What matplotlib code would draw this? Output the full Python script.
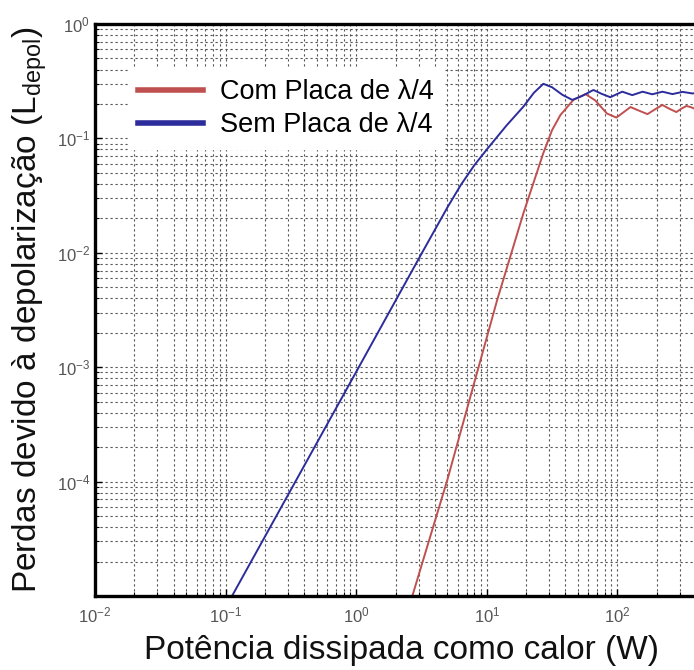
import numpy as np
import matplotlib
matplotlib.use("Agg")
import matplotlib.pyplot as plt
from matplotlib.ticker import LogLocator, NullFormatter

plt.rcParams['font.family'] = ['Liberation Sans', 'DejaVu Sans']
plt.rcParams['mathtext.fontset'] = 'custom'
plt.rcParams['mathtext.rm'] = 'Liberation Sans'
plt.rcParams['mathtext.it'] = 'Liberation Sans:italic'

# potencia (W) e perdas
p_sem = [0.112, 1.0, 3.16, 5.0, 6.31, 8.0, 10.0, 14.1, 19.1, 22.9, 27.1, 31.6, 38.0, 45.2,
         53.7, 65.5, 75.9, 88.3, 100, 109, 130, 156, 185, 221, 264, 315, 376, 447, 500]
l_sem = [1.0e-5, 9.1e-4, 9.8e-3, 2.5e-2, 3.9e-2, 5.8e-2, 8.0e-2, 0.129, 0.19, 0.25, 0.30,
         0.28, 0.24, 0.217, 0.235, 0.265, 0.245, 0.229, 0.245, 0.256, 0.239, 0.256, 0.243,
         0.256, 0.244, 0.255, 0.247, 0.254, 0.25]

p_com = [2.69, 4.98, 12.0, 19.1, 27.1, 31.6, 36.6, 46.0, 56.9, 67.6, 83.2, 98.2, 112, 126,
         146, 170, 195, 221, 251, 283, 309, 338, 363, 389, 447]
l_com = [1.0e-5, 1.03e-4, 3.86e-3, 2.23e-2, 7.45e-2, 0.118, 0.160, 0.217, 0.244, 0.215,
         0.165, 0.152, 0.170, 0.188, 0.175, 0.163, 0.180, 0.196, 0.181, 0.170, 0.182, 0.192,
         0.188, 0.182, 0.176]

x_ticks = [1e-2, 1e-1, 1e0, 1e1, 1e2]
x_ticklabels = [r'$10^{-2}$', r'$10^{-1}$', r'$10^{0}$', r'$10^{1}$', r'$10^{2}$']
y_ticks = [1e-4, 1e-3, 1e-2, 1e-1, 1e0]
y_ticklabels = [r'$10^{-4}$', r'$10^{-3}$', r'$10^{-2}$', r'$10^{-1}$', r'$10^{0}$']

fig = plt.figure(figsize=(6.94, 6.70), dpi=100)
ax = fig.add_axes([95 / 694, 74 / 670, 653 / 694, 572 / 670])

ax.loglog(p_com, l_com, color='#c05050', lw=1.4, label='Com Placa de λ/4')
ax.loglog(p_sem, l_sem, color='#2c2c9c', lw=1.4, label='Sem Placa de λ/4')

ax.set_xlim(1e-2, 1e3)
ax.set_ylim(1e-5, 1e0)

ax.set_xticks(x_ticks)
ax.set_xticklabels(x_ticklabels)
ax.set_yticks(y_ticks)
ax.set_yticklabels(y_ticklabels)
ax.xaxis.set_minor_locator(LogLocator(base=10, subs=np.arange(2, 10), numticks=20))
ax.yaxis.set_minor_locator(LogLocator(base=10, subs=np.arange(2, 10), numticks=20))
ax.xaxis.set_minor_formatter(NullFormatter())
ax.yaxis.set_minor_formatter(NullFormatter())

ax.tick_params(which='both', direction='in', top=False, right=False, labelsize=12,
               labelcolor='#555555')
ax.tick_params(which='major', length=5, width=1)
ax.tick_params(which='minor', length=3, width=0.8)
ax.tick_params(axis='x', pad=7)

ax.grid(True, which='both', linestyle=(0, (2, 2.5)), color='#555555', linewidth=0.8)

for side in ['left', 'bottom', 'top']:
    ax.spines[side].set_linewidth(2.4)
ax.spines['right'].set_visible(False)

ax.set_xlabel('Potência dissipada como calor (W)', fontsize=24, color='#111111')
ax.xaxis.set_label_coords(0.47, -0.068)
ax.set_ylabel(r'Perdas devido à depolarização (L$_{\mathregular{depol}}$)', fontsize=24,
              color='#111111')
ax.yaxis.set_label_coords(-0.07, 0.5)

leg = ax.legend(loc='upper left', bbox_to_anchor=(0.05, 0.922), borderaxespad=0,
                fontsize=19.5, frameon=True, fancybox=False, handlelength=2.4,
                borderpad=0.4, handletextpad=0.6, labelspacing=0.25)
leg.get_frame().set_edgecolor('white')
leg.get_frame().set_facecolor('white')
leg.get_frame().set_alpha(1.0)
for line in leg.get_lines():
    line.set_linewidth(4)

fig.savefig('out.png', dpi=100)
